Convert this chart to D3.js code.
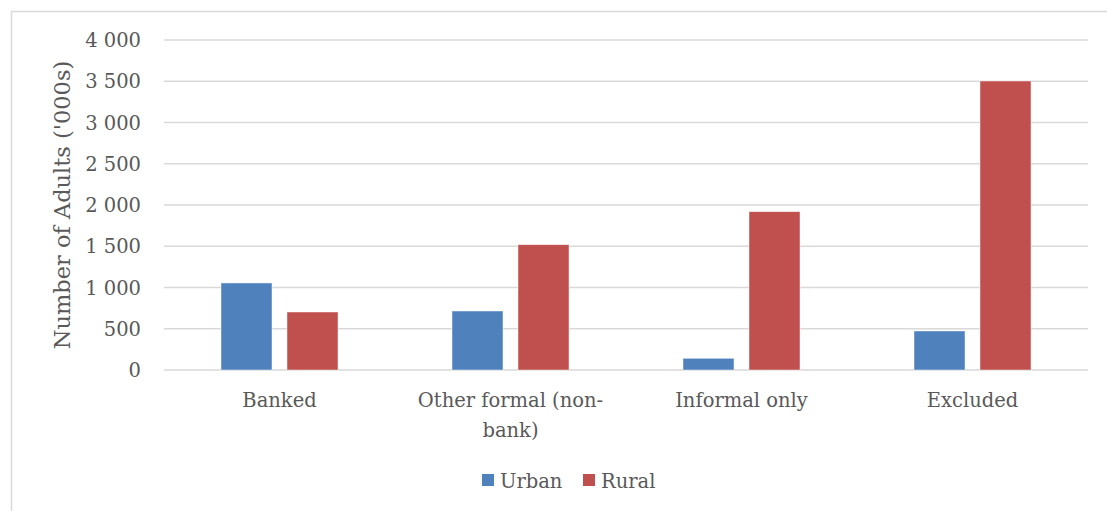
<!DOCTYPE html>
<html>
<head>
<meta charset="utf-8">
<script src="https://cdn.jsdelivr.net/npm/d3@7"></script>
<style>
  html, body { margin: 0; padding: 0; background: #fff; }
  svg text { font-family: "DejaVu Serif", "Liberation Serif", serif; fill: #595959; }
</style>
</head>
<body>
<svg id="chart" width="1107" height="511"></svg>
<script>
// Adults by financial access strand, urban vs rural ('000s)
const categories = ["Banked", "Other formal (non-bank)", "Informal only", "Excluded"];
const categoryLines = [["Banked"], ["Other formal (non-", "bank)"], ["Informal only"], ["Excluded"]];
const seriesNames = ["Urban", "Rural"];
const urbanValues = [1055, 715, 142, 473];
const ruralValues = [703, 1519, 1919, 3503];
const yTicks = [0, 500, 1000, 1500, 2000, 2500, 3000, 3500, 4000];
const colors = ["#4f81bd", "#c0504d"];

const svg = d3.select("#chart");
const plot = { left: 164, right: 1088, top: 40, bottom: 370 };

// chart frame
svg.append("rect")
  .attr("x", 11.5).attr("y", 11.5)
  .attr("width", 1120).attr("height", 520)
  .attr("fill", "none").attr("stroke", "#d9d9d9").attr("stroke-width", 1.5);

const x = d3.scaleBand().domain(categories).range([plot.left, plot.right]);
const y = d3.scaleLinear().domain([0, 4000]).range([plot.bottom, plot.top]);

const fmt = v => d3.format(",")(v).replace(/,/g, " ");

// gridlines
svg.append("g").selectAll("line").data(yTicks).join("line")
  .attr("x1", plot.left).attr("x2", plot.right)
  .attr("y1", d => y(d)).attr("y2", d => y(d))
  .attr("stroke", "#d9d9d9").attr("stroke-width", 1.5);

// y tick labels
svg.append("g").selectAll("text").data(yTicks).join("text")
  .attr("x", 141).attr("y", d => y(d))
  .attr("dy", "0.36em")
  .attr("text-anchor", "end")
  .attr("font-size", 19.5)
  .text(fmt);

// y axis title
svg.append("text")
  .attr("transform", "translate(70, 205) rotate(-90)")
  .attr("text-anchor", "middle")
  .attr("font-size", 22.5)
  .text("Number of Adults ('000s)");

// bars: two per category, fixed width with a small gap
const barW = 51, gap = 15;
const x1 = d3.scaleOrdinal().domain(seriesNames).range([0, barW + gap]);
const rows = categories.map((c, i) => ({ cat: c, vals: [urbanValues[i], ruralValues[i]] }));

const groups = svg.append("g").selectAll("g").data(rows).join("g")
  .attr("transform", d => `translate(${x(d.cat) + x.bandwidth() / 2 - (2 * barW + gap) / 2},0)`);

groups.selectAll("rect").data(d => d.vals.map((v, j) => ({ v, s: seriesNames[j], j }))).join("rect")
  .attr("x", d => x1(d.s))
  .attr("y", d => y(d.v))
  .attr("width", barW)
  .attr("height", d => y(0) - y(d.v))
  .attr("fill", d => colors[d.j])
  .attr("stroke", "#ffffff").attr("stroke-opacity", 0.6).attr("stroke-width", 0.75);

// category labels
const catG = svg.append("g").selectAll("text").data(categories).join("text")
  .attr("x", d => x(d) + x.bandwidth() / 2)
  .attr("y", 407)
  .attr("text-anchor", "middle")
  .attr("font-size", 19.5);
catG.each(function (d, i) {
  d3.select(this).selectAll("tspan").data(categoryLines[i]).join("tspan")
    .attr("x", x(d) + x.bandwidth() / 2)
    .attr("dy", (t, k) => k === 0 ? 0 : 30)
    .text(t => t);
});

// legend
const legendItems = [{ name: "Urban", x: 482 }, { name: "Rural", x: 583 }];
const lg = svg.append("g").selectAll("g").data(legendItems).join("g");
lg.append("rect")
  .attr("x", d => d.x).attr("y", 474)
  .attr("width", 12).attr("height", 12)
  .attr("fill", (d, i) => colors[i]);
lg.append("text")
  .attr("x", d => d.x + 18).attr("y", 488)
  .attr("font-size", 19.5)
  .text(d => d.name);
</script>
</body>
</html>
